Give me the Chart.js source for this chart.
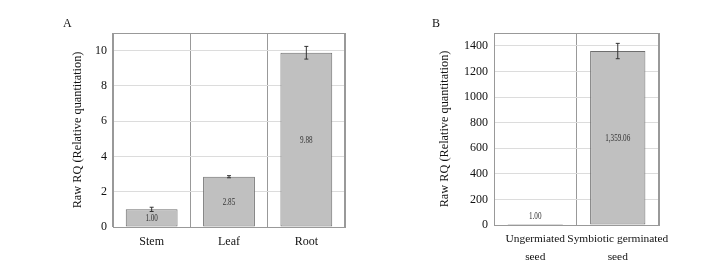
<!DOCTYPE html>
<html>
<head>
<meta charset="utf-8">
<script src="https://cdn.jsdelivr.net/npm/chart.js@4"></script>
<style>
  body { margin: 0; background: #fff; }
  .box { position: absolute; top: 0; height: 266px; }
</style>
</head>
<body>
<div class="box" style="left:60px;width:300px"><canvas id="chartA" width="300" height="266"></canvas></div>
<div class="box" style="left:420px;width:303px"><canvas id="chartB" width="303" height="266"></canvas></div>
<script>
// panel A: tissues
var tissueLabels = ["Stem", "Leaf", "Root"];
var tissueRQ = [1.00, 2.85, 9.88];
var tissueErr = [0.12, 0.06, 0.36];
var tissueText = ["1.00", "2.85", "9.88"];

// panel B: seeds
var seedLabels = [["Ungermiated", "seed"], ["Symbiotic germinated", "seed"]];
var seedRQ = [1.00, 1359.06];
var seedErr = [0, 60];
var seedText = ["1.00", "1,359.06"];

var serif = "'Liberation Serif', 'Times New Roman', serif";

// error bars + value labels + frame + panel letter
var extras = {
  id: "extras",
  afterDatasetsDraw: function(chart, args, opts) {
    var ctx = chart.ctx;
    var area = chart.chartArea;
    var y = chart.scales.y;
    var meta = chart.getDatasetMeta(0);
    ctx.save();
    ctx.strokeStyle = "#999";
    ctx.lineWidth = 1;
    ctx.strokeRect(area.left + 0.5, area.top + 0.5, area.right - area.left - 1, area.bottom - area.top);
    // error bars
    ctx.strokeStyle = "#333";
    meta.data.forEach(function(bar, i) {
      var e = opts.err[i];
      if (!e) return;
      var v = chart.data.datasets[0].data[i];
      var top = y.getPixelForValue(v + e), bot = y.getPixelForValue(v - e);
      ctx.beginPath();
      ctx.moveTo(bar.x, top); ctx.lineTo(bar.x, bot);
      ctx.moveTo(bar.x - 2, top); ctx.lineTo(bar.x + 2, top);
      ctx.moveTo(bar.x - 2, bot); ctx.lineTo(bar.x + 2, bot);
      ctx.stroke();
    });
    // value labels (narrow, like the original export)
    ctx.fillStyle = "#333";
    ctx.font = "11px " + serif;
    ctx.textAlign = "center";
    ctx.textBaseline = "middle";
    meta.data.forEach(function(bar, i) {
      var h = bar.base - bar.y;
      var ty = h > 14 ? (bar.y + bar.base) / 2 : bar.y - 8;
      ctx.save();
      ctx.translate(bar.x, ty);
      ctx.scale(0.65, 1);
      ctx.fillText(opts.text[i], 0, 0);
      ctx.restore();
    });
    // panel letter
    ctx.fillStyle = "#111";
    ctx.font = "12px " + serif;
    ctx.textAlign = "left";
    ctx.textBaseline = "middle";
    ctx.fillText(opts.letter, opts.letterX, 24);
    ctx.restore();
  }
};

function makeChart(id, labels, values, cfg) {
  return new Chart(id, {
    type: "bar",
    data: {
      labels: labels,
      datasets: [{
        data: values,
        backgroundColor: "#c0c0c0",
        borderColor: "#6e6e6e",
        borderWidth: 1,
        borderSkipped: false,
        categoryPercentage: 1,
        barPercentage: 0.67,
        minBarLength: 1
      }]
    },
    options: {
      responsive: false,
      animation: false,
      events: [],
      layout: { padding: { top: 33, right: cfg.padRight, left: cfg.padLeft, bottom: 0 } },
      plugins: {
        legend: { display: false },
        tooltip: { enabled: false },
        extras: { err: cfg.err, text: cfg.text, letter: cfg.letter, letterX: cfg.letterX }
      },
      scales: {
        x: {
          grid: { offset: true, color: "#999", drawTicks: false },
          border: { color: "#999" },
          ticks: { color: "#111", font: { family: serif, size: cfg.xFont, lineHeight: 1.6 }, padding: 5, maxRotation: 0, autoSkip: false },
          afterFit: function(s) { s.height = cfg.xHeight; }
        },
        y: {
          min: 0,
          max: cfg.max,
          grid: { color: "#dcdcdc", drawTicks: false },
          border: { color: "#999" },
          ticks: {
            stepSize: cfg.step, includeBounds: false, color: "#111",
            font: { family: serif, size: 12 }, padding: 6,
            callback: function(v) { return String(v); }
          },
          title: { display: true, text: "Raw RQ (Relative quantitation)", color: "#111", font: { family: serif, size: 12.3 } },
          afterFit: function(s) { s.width = cfg.yWidth; }
        }
      }
    },
    plugins: [extras]
  });
}

makeChart("chartA", tissueLabels, tissueRQ, {
  max: 11, step: 2, padLeft: 6, padRight: 15, yWidth: 47, xHeight: 39, xFont: 12,
  err: tissueErr, text: tissueText, letter: "A", letterX: 3
});

makeChart("chartB", seedLabels, seedRQ, {
  max: 1500, step: 200, padLeft: 13, padRight: 64, yWidth: 61, xHeight: 41, xFont: 11.4,
  err: seedErr, text: seedText, letter: "B", letterX: 12
});
</script>
</body>
</html>
